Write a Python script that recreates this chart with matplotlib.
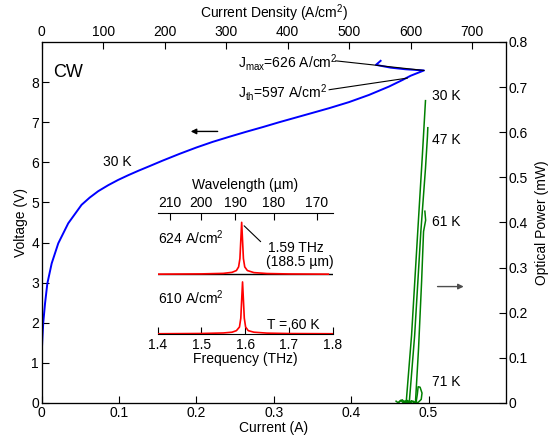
import matplotlib
matplotlib.use("Agg")
import matplotlib.pyplot as plt

plt.rcParams['font.family'] = ['Liberation Sans', 'DejaVu Sans']
plt.rcParams['mathtext.default'] = 'regular'
plt.rcParams['font.size'] = 10

# V-I curve at 30 K (current in A, voltage in V), incl. the return hook near the top
iv_current = [0.0, 0.0, 0.0004, 0.001, 0.002, 0.0043, 0.0073, 0.0129, 0.0214, 0.0343,
              0.0515, 0.062, 0.073, 0.086, 0.0987, 0.112, 0.125, 0.140, 0.156, 0.178,
              0.200, 0.221, 0.243, 0.264, 0.286, 0.307, 0.331, 0.355, 0.3715, 0.397,
              0.423, 0.449, 0.466, 0.477, 0.494,
              0.470, 0.451, 0.440, 0.432, 0.438]
iv_voltage = [0.0, 1.0, 1.4, 1.65, 2.0, 2.48, 2.98, 3.48, 3.98, 4.48,
              4.94, 5.12, 5.28, 5.43, 5.56, 5.68, 5.79, 5.91, 6.04, 6.21,
              6.37, 6.51, 6.64, 6.76, 6.88, 7.0, 7.13, 7.26, 7.35, 7.50,
              7.68, 7.89, 8.05, 8.16, 8.29,
              8.32, 8.36, 8.40, 8.43, 8.53]

# L-I curves (current in A, optical power in mW)
li_30k_i = [0.458, 0.461, 0.464, 0.467, 0.469, 0.471, 0.478, 0.486, 0.492, 0.496]
li_30k_p = [0.004, 0.0, 0.006, 0.001, 0.004, 0.0, 0.15, 0.38, 0.55, 0.67]
li_47k_i = [0.462, 0.466, 0.470, 0.473, 0.475, 0.482, 0.490, 0.496, 0.4985, 0.499]
li_47k_p = [0.003, 0.007, 0.0, 0.005, 0.0, 0.15, 0.38, 0.52, 0.59, 0.61]
li_61k_i = [0.468, 0.472, 0.476, 0.480, 0.483, 0.487, 0.491, 0.4935, 0.4962, 0.4952]
li_61k_p = [0.002, 0.006, 0.0, 0.004, 0.0, 0.12, 0.27, 0.38, 0.405, 0.425]
li_71k_i = [0.470, 0.474, 0.478, 0.481, 0.484, 0.4855, 0.4865, 0.489, 0.4915, 0.4905, 0.487, 0.484]
li_71k_p = [0.002, 0.0, 0.005, 0.001, 0.003, 0.02, 0.036, 0.035, 0.022, 0.008, 0.002, 0.0]

# Spectra (frequency in THz, normalized intensity)
spec_624_f = [1.40, 1.50, 1.55, 1.57, 1.58, 1.585, 1.588, 1.590, 1.592, 1.594, 1.596,
              1.599, 1.605, 1.62, 1.65, 1.70, 1.79]
spec_624_a = [0.0, 0.005, 0.015, 0.035, 0.07, 0.14, 0.3, 0.65, 1.0, 0.65, 0.3,
              0.14, 0.07, 0.03, 0.012, 0.004, 0.0]
spec_610_f = [1.40, 1.50, 1.55, 1.57, 1.58, 1.587, 1.590, 1.592, 1.594, 1.596, 1.598,
              1.601, 1.607, 1.62, 1.65, 1.70, 1.80]
spec_610_a = [0.0, 0.005, 0.015, 0.03, 0.06, 0.13, 0.3, 0.65, 1.0, 0.65, 0.3,
              0.13, 0.06, 0.03, 0.012, 0.004, 0.0]
spec_offset = 1.15

j_per_amp = 1258.0  # A/cm2 per A

fig = plt.figure(figsize=(5.56, 4.41), dpi=100)
ax = fig.add_axes([0.075, 0.0862, 0.835, 0.8186])
ax.plot(iv_current, iv_voltage, color='blue', lw=1.4)
ax.set_xlim(0, 0.6)
ax.set_ylim(0, 9)
ax.set_xticks([0, 0.1, 0.2, 0.3, 0.4, 0.5])
ax.set_xticklabels(['0', '0.1', '0.2', '0.3', '0.4', '0.5'])
ax.set_yticks(range(9))
ax.set_xlabel('Current (A)', labelpad=1)
ax.set_ylabel('Voltage (V)', labelpad=2)
ax.tick_params(direction='in', length=5, pad=2)

# power axis
ax2 = ax.twinx()
for xi, yi in [(li_30k_i, li_30k_p), (li_47k_i, li_47k_p), (li_61k_i, li_61k_p), (li_71k_i, li_71k_p)]:
    ax2.plot(xi, yi, color='green', lw=1.1)
ax2.set_ylim(0, 0.8)
ax2.set_yticks([0, 0.1, 0.2, 0.3, 0.4, 0.5, 0.6, 0.7, 0.8])
ax2.set_yticklabels(['0', '0.1', '0.2', '0.3', '0.4', '0.5', '0.6', '0.7', '0.8'])
ax2.set_ylabel('Optical Power (mW)', labelpad=5)
ax2.tick_params(direction='in', length=5, pad=2)

# current density axis
ax3 = ax.twiny()
ax3.set_xlim(0, 0.6 * j_per_amp)
ax3.set_xticks([0, 100, 200, 300, 400, 500, 600, 700])
ax3.set_xlabel('Current Density (A/cm$^2$)', labelpad=5)
ax3.tick_params(direction='in', length=5, pad=2)

# labels and arrows
ax.text(0.015, 8.25, 'CW', fontsize=13, va='center')
ax.text(0.079, 6.0, '30 K', va='center')
ax.text(0.2537, 8.48, 'J$_{max}$=626 A/cm$^2$', va='center')
ax.text(0.2537, 7.73, 'J$_{th}$=597 A/cm$^2$', va='center')
ax.plot([0.380, 0.494], [8.53, 8.29], color='black', lw=0.8)
ax.plot([0.3715, 0.4725], [7.81, 8.10], color='black', lw=0.8)
ax.annotate('', xy=(0.189, 6.77), xytext=(0.231, 6.77),
            arrowprops=dict(arrowstyle='-|>', color='black', lw=1, mutation_scale=8))
ax2.annotate('', xy=(0.549, 0.258), xytext=(0.508, 0.258),
             arrowprops=dict(arrowstyle='-|>', color='0.3', lw=1, mutation_scale=8))
for lbl, p in [('30 K', 0.68), ('47 K', 0.582), ('61 K', 0.40), ('71 K', 0.047)]:
    ax2.text(0.504, p, lbl, va='center')

# inset spectra
axi = fig.add_axes([0.2836, 0.2426, 0.3147, 0.2744])
axi.patch.set_visible(False)
axi.axhline(spec_offset, color='black', lw=1)
axi.plot(spec_624_f, [a + spec_offset for a in spec_624_a], color='red', lw=1.2)
axi.plot(spec_610_f, spec_610_a, color='red', lw=1.2)
axi.set_xlim(1.4, 1.8)
axi.set_ylim(-0.005, 2.33)
axi.set_xticks([1.4, 1.5, 1.6, 1.7, 1.8])
axi.set_yticks([])
for s in ['left', 'right', 'top']:
    axi.spines[s].set_visible(False)
axi.tick_params(direction='in', length=5, pad=3)
axi.set_xlabel('Frequency (THz)', labelpad=0)
sec = axi.secondary_xaxis('top', functions=(lambda f: 299.79 / f, lambda w: 299.79 / w))
sec.set_xticks([210, 200, 190, 180, 170])
sec.tick_params(direction='in', length=5, pad=2)
sec.set_xlabel('Wavelength (µm)', labelpad=5)
axi.text(0.0, 0.8, '624 A/cm$^2$', transform=axi.transAxes, va='center')
axi.text(0.0, 0.3, '610 A/cm$^2$', transform=axi.transAxes, va='center')
axi.text(0.63, 0.71, '1.59 THz', transform=axi.transAxes, va='center')
axi.text(0.62, 0.595, '(188.5 µm)', transform=axi.transAxes, va='center')
axi.text(0.625, 0.075, 'T = 60 K', transform=axi.transAxes, va='center')
axi.annotate('', xy=(1.593, 2.12), xytext=(1.64, 1.74),
             arrowprops=dict(arrowstyle='-', color='black', lw=0.8))

fig.savefig('out.png', dpi=100)
